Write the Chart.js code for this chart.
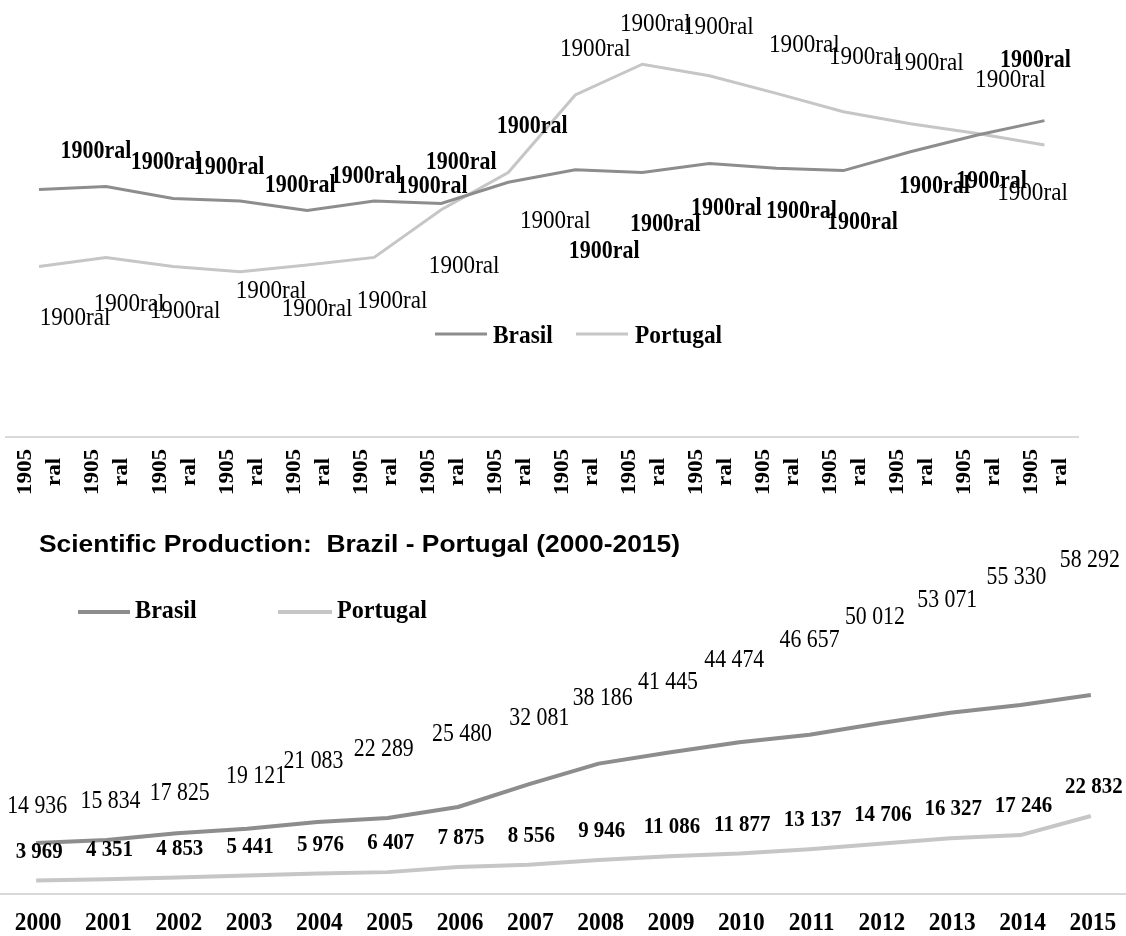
<!DOCTYPE html>
<html>
<head>
<meta charset="utf-8">
<title>Scientific Production: Brazil - Portugal (2000-2015)</title>
<script src="https://cdn.jsdelivr.net/npm/chart.js@4.4.0/dist/chart.umd.min.js"></script>
<style>
  html, body { margin: 0; padding: 0; background: #ffffff; }
  #wrap { position: relative; width: 1126px; height: 936px; overflow: hidden; }
  canvas { position: absolute; left: 0; }
  #trend { top: 0; }
  #prod { top: 520px; }
</style>
</head>
<body>
<div id="wrap">
  <canvas id="trend" width="1126" height="520"></canvas>
  <canvas id="prod" width="1126" height="416"></canvas>
</div>
<script>
// ---------- upper panel ----------
const trendTick = ['1905', 'ral'];
const trendCategories = Array.from({ length: 16 }, () => trendTick);
const trendTag = '1900ral';
const trendBrasil   = [61.9, 62.6, 59.6, 59.0, 56.6, 59.0, 58.4, 63.7, 66.8, 66.1, 68.4, 67.2, 66.6, 71.3, 75.5, 79.1];
const trendPortugal = [42.6, 44.9, 42.6, 41.3, 43.0, 44.9, 56.8, 66.1, 85.5, 93.2, 90.3, 85.9, 81.3, 78.3, 75.9, 73.0];

// ---------- lower panel ----------
const years = ['2000', '2001', '2002', '2003', '2004', '2005', '2006', '2007',
               '2008', '2009', '2010', '2011', '2012', '2013', '2014', '2015'];
const brasil   = [14936, 15834, 17825, 19121, 21083, 22289, 25480, 32081,
                  38186, 41445, 44474, 46657, 50012, 53071, 55330, 58292];
const portugal = [3969, 4351, 4853, 5441, 5976, 6407, 7875, 8556,
                  9946, 11086, 11877, 13137, 14706, 16327, 17246, 22832];
const seriesNames = ['Brasil', 'Portugal'];
const titleText = 'Scientific Production:  Brazil - Portugal (2000-2015)';

// ---------- styling ----------
const BR_COLOR = '#8d8d8d';
const PT_COLOR = '#c6c6c6';
const AXIS_COLOR = '#d9d9d9';
const SERIF = '"Liberation Serif", "Times New Roman", serif';
const SANS = '"Liberation Sans", Arial, sans-serif';
const SQUEEZE = 0.89;   // glyphs are drawn slightly narrow (tall type)

// hand-placed label nudges (px, relative to each point)
const trendBrasilTagShift = [[57,-38],[60,-24],[56,-31],[60,-15],[59,-34],[58,-14],[20,-41],[24,-56],
                             [29,82],[23,52],[17,45],[25,43],[19,52],[24,35],[14,47],[-9,-60]];
const trendPortugalTagShift = [[36,52],[23,47],[12,45],[31,19],[10,44],[18,44],[23,56],[47,49],
                               [20,-46],[13,-40],[9,-49],[28,-48],[21,-55],[18,-61],[33,-53],[-12,48]];
const brasilTagShift = [[1,-36],[4,-38],[3,-40],[9,-52],[-4,-60],[-4,-68],[4,-72],[11,-66],
                        [4,-65],[-1,-70],[-5,-82],[0,-94],[-5,-106],[-3,-112],[-4,-128],[-1,-134]];

const spaced = v => String(v).replace(/\B(?=(\d{3})+(?!\d))/g, ' ');

// text drawn with a horizontal squeeze factor
function putText(ctx, text, x, y, k) {
  ctx.save();
  ctx.translate(x, y);
  ctx.scale(k, 1);
  ctx.fillText(text, 0, 0);
  ctx.restore();
}

// point value labels
function tagLayer(sets) {
  return {
    id: 'tagLayer',
    afterDatasetsDraw(chart) {
      const ctx = chart.ctx;
      ctx.save();
      ctx.fillStyle = '#000';
      ctx.textAlign = 'center';
      ctx.textBaseline = 'middle';
      sets.forEach(s => {
        const meta = chart.getDatasetMeta(s.dataset);
        const vals = chart.data.datasets[s.dataset].data;
        ctx.font = s.font;
        meta.data.forEach((pt, i) => {
          const d = s.shift(i);
          putText(ctx, s.text(vals[i]), pt.x + d[0], pt.y + d[1], SQUEEZE);
        });
      });
      ctx.restore();
    }
  };
}

// category labels under the x axis
function tickLayer(draw) {
  return {
    id: 'tickLayer',
    afterDraw(chart) {
      const sc = chart.scales.x;
      const ctx = chart.ctx;
      ctx.save();
      ctx.fillStyle = '#000';
      chart.data.labels.forEach((lab, i) => draw(ctx, lab, sc.getPixelForTick(i), sc));
      ctx.restore();
    }
  };
}

// line-sample legend
function keyLayer(cfg) {
  return {
    id: 'keyLayer',
    afterDraw(chart) {
      const ctx = chart.ctx;
      ctx.save();
      ctx.font = cfg.font;
      ctx.textAlign = 'left';
      ctx.textBaseline = 'alphabetic';
      ctx.fillStyle = '#000';
      chart.data.datasets.forEach((ds, i) => {
        const it = cfg.items[i];
        ctx.strokeStyle = ds.borderColor;
        ctx.lineWidth = cfg.lineWidth;
        ctx.beginPath();
        ctx.moveTo(it.from, cfg.lineY);
        ctx.lineTo(it.to, cfg.lineY);
        ctx.stroke();
        putText(ctx, ds.label, it.textX, cfg.baseline, cfg.squeeze);
      });
      ctx.restore();
    }
  };
}

// chart heading, fitted to a set width
function headLayer(cfg) {
  return {
    id: 'headLayer',
    afterDraw(chart) {
      const ctx = chart.ctx;
      ctx.save();
      ctx.font = cfg.font;
      ctx.fillStyle = '#000';
      ctx.textAlign = 'left';
      ctx.textBaseline = 'alphabetic';
      const w = ctx.measureText(cfg.text).width;
      putText(ctx, cfg.text, cfg.x, cfg.baseline, cfg.width / w);
      ctx.restore();
    }
  };
}

Chart.defaults.font.family = SERIF;

const hiddenTicks = { display: false };

// ---------- upper chart ----------
new Chart(document.getElementById('trend'), {
  type: 'line',
  data: {
    labels: trendCategories,
    datasets: [
      { label: seriesNames[0], data: trendBrasil, borderColor: BR_COLOR, borderWidth: 3,
        pointRadius: 0, tension: 0, fill: false },
      { label: seriesNames[1], data: trendPortugal, borderColor: PT_COLOR, borderWidth: 3,
        pointRadius: 0, tension: 0, fill: false }
    ]
  },
  options: {
    responsive: false,
    animation: false,
    devicePixelRatio: 1,
    layout: { padding: { left: 5.5, right: 48, top: 37, bottom: 0 } },
    plugins: { legend: { display: false }, title: { display: false }, tooltip: { enabled: false } },
    scales: {
      x: {
        offset: true,
        grid: { display: false, drawTicks: false },
        border: { display: true, color: AXIS_COLOR, width: 2 },
        ticks: hiddenTicks,
        afterFit: s => { s.height = 83; }
      },
      y: { display: false, min: 0, max: 100 }
    }
  },
  plugins: [
    tagLayer([
      { dataset: 0, font: 'bold 24.7px ' + SERIF, text: () => trendTag, shift: i => trendBrasilTagShift[i] },
      { dataset: 1, font: '26px ' + SERIF, text: () => trendTag, shift: i => trendPortugalTagShift[i] }
    ]),
    // two-line labels set upright (reading bottom to top)
    tickLayer((ctx, lab, px, sc) => {
      ctx.font = 'bold 21px ' + SERIF;
      ctx.textAlign = 'center';
      ctx.textBaseline = 'middle';
      lab.forEach((line, j) => {
        ctx.save();
        ctx.translate(px - 13 + j * 29, sc.top + 35);
        ctx.scale(1, 1.1);
        ctx.rotate(-Math.PI / 2);
        ctx.fillText(line, 0, 0);
        ctx.restore();
      });
    }),
    keyLayer({
      font: 'bold 26px ' + SERIF, squeeze: 0.9, lineWidth: 3, lineY: 334, baseline: 343,
      items: [{ from: 435, to: 487, textX: 493 }, { from: 576, to: 628, textX: 635 }]
    })
  ]
});

// ---------- lower chart ----------
new Chart(document.getElementById('prod'), {
  type: 'line',
  data: {
    labels: years,
    datasets: [
      { label: seriesNames[0], data: brasil, borderColor: BR_COLOR, borderWidth: 4,
        pointRadius: 0, tension: 0, fill: false, borderJoinStyle: 'round' },
      { label: seriesNames[1], data: portugal, borderColor: PT_COLOR, borderWidth: 4,
        pointRadius: 0, tension: 0, fill: false, borderJoinStyle: 'round' }
    ]
  },
  options: {
    responsive: false,
    animation: false,
    devicePixelRatio: 1,
    layout: { padding: { left: 1, right: 0, top: 135, bottom: 0 } },
    plugins: { legend: { display: false }, title: { display: false }, tooltip: { enabled: false } },
    scales: {
      x: {
        offset: true,
        grid: { display: false, drawTicks: false },
        border: { display: true, color: AXIS_COLOR, width: 2 },
        ticks: hiddenTicks,
        afterFit: s => { s.height = 42; }
      },
      y: { display: false, min: 0, max: 70000 }
    }
  },
  plugins: [
    tagLayer([
      { dataset: 0, font: '24.5px ' + SERIF, text: spaced, shift: i => brasilTagShift[i] },
      { dataset: 1, font: 'bold 23.5px ' + SERIF, text: spaced, shift: () => [3, -29] }
    ]),
    tickLayer((ctx, lab, px, sc) => {
      ctx.font = 'bold 26px ' + SERIF;
      ctx.textAlign = 'center';
      ctx.textBaseline = 'alphabetic';
      putText(ctx, lab, px + 2, sc.top + 36, 0.9);
    }),
    keyLayer({
      font: 'bold 26px ' + SERIF, squeeze: 0.93, lineWidth: 4, lineY: 92, baseline: 98,
      items: [{ from: 78, to: 130, textX: 135 }, { from: 278, to: 332, textX: 337 }]
    }),
    headLayer({ text: titleText, font: 'bold 24px ' + SANS, x: 39, baseline: 32, width: 641 })
  ]
});
</script>
</body>
</html>
